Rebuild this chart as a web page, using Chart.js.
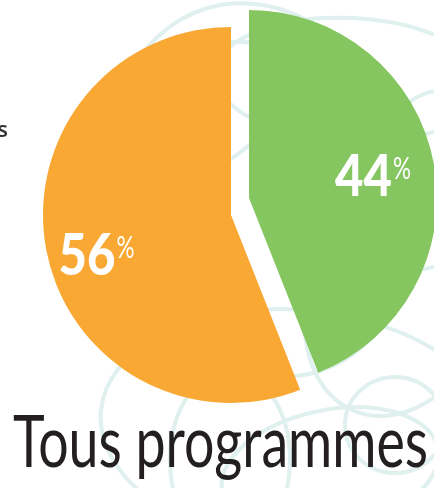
<!DOCTYPE html>
<html>
<head>
<meta charset="utf-8">
<script src="https://cdn.jsdelivr.net/npm/chart.js"></script>
<style>
  html, body { margin: 0; padding: 0; background: #fff; }
  #wrap { width: 434px; height: 488px; position: relative; }
</style>
</head>
<body>
<div id="wrap"><canvas id="pie"></canvas></div>
<script>
// chart data
const categories = ['Groupe A', 'Groupe B'];
const shares = [44, 56];
const valueLabels = ['44', '56'];
const sliceColors = ['#86c661', '#f9a833'];
const chartTitle = 'Tous programmes';

// light scribbles in the background
const scribbles = {
    id: 'scribbles',
    beforeDraw(chart) {
        const ctx = chart.ctx;
        ctx.save();
        ctx.strokeStyle = '#dff0ef';
        ctx.lineWidth = 4;
        const rings = [
            [262, 190, 150, 190, -0.3],
            [350, 80, 135, 62, 0.05],
            [400, 300, 90, 120, 0.4],
            [395, 425, 50, 48, 0],
            [300, 430, 200, 120, 0.1],
            [230, 460, 60, 90, 0],
            [330, 470, 110, 60, -0.2],
            [430, 180, 60, 90, 0.2],
            [180, 120, 120, 60, -0.5]
        ];
        rings.forEach(r => {
            ctx.beginPath();
            ctx.ellipse(r[0], r[1], r[2], r[3], r[4], 0, Math.PI * 2);
            ctx.stroke();
        });
        ctx.restore();
    }
};

// draw slices, pulling the green one out up and to the right
const explode = {
    id: 'explode',
    beforeDatasetDraw(chart, args) {
        const ctx = chart.ctx;
        args.meta.data.forEach((el, i) => {
            ctx.save();
            if (i === 0) ctx.translate(18, -17);
            el.draw(ctx);
            ctx.restore();
        });
        return false;
    }
};

// percentage labels + title text
const labels = {
    id: 'labels',
    afterDatasetsDraw(chart) {
        const ctx = chart.ctx;
        const meta = chart.getDatasetMeta(0);
        const shift = [[18, -17], [0, 0]];
        const dist = [0.62, 0.78];
        const nudge = [0, 13];
        meta.data.forEach((el, i) => {
            const p = el.getProps(['x', 'y', 'startAngle', 'endAngle', 'outerRadius'], true);
            const mid = (p.startAngle + p.endAngle) / 2;
            const cx = p.x + shift[i][0] + Math.cos(mid) * p.outerRadius * dist[i];
            const cy = p.y + shift[i][1] + Math.sin(mid) * p.outerRadius * dist[i] + nudge[i];
            ctx.save();
            ctx.fillStyle = '#ffffff';
            ctx.textBaseline = 'alphabetic';
            ctx.font = '900 57px Lato';
            const sx = 0.86;
            const w = ctx.measureText(valueLabels[i]).width * sx;
            ctx.save();
            ctx.translate(cx - w / 2, cy + 20);
            ctx.scale(sx, 1);
            ctx.fillText(valueLabels[i], 0, 0);
            ctx.restore();
            ctx.font = '30px Lato';
            ctx.save();
            ctx.translate(cx + w / 2 + 1, cy + 3);
            ctx.scale(0.75, 1);
            ctx.fillText('%', 0, 0);
            ctx.restore();
            ctx.restore();
        });

        // title
        ctx.save();
        ctx.fillStyle = '#231f20';
        ctx.font = '72px Lato';
        const tw = ctx.measureText(chartTitle).width;
        ctx.translate(13, 467);
        ctx.scale(415 / tw, 1);
        ctx.fillText(chartTitle, 0, 0);
        ctx.restore();

        // cut-off text at the left edge
        ctx.save();
        ctx.fillStyle = '#333333';
        ctx.font = '600 22px "Open Sans"';
        ctx.textAlign = 'right';
        ctx.fillText('s', 8, 137);
        ctx.restore();
    }
};

new Chart(document.getElementById('pie'), {
    type: 'pie',
    data: {
        labels: categories,
        datasets: [{
            data: shares,
            backgroundColor: sliceColors,
            borderWidth: 0,
            clip: false
        }]
    },
    options: {
        responsive: true,
        maintainAspectRatio: false,
        animation: false,
        layout: {
            padding: { left: 43, right: 15, top: 27, bottom: 85 }
        },
        plugins: {
            legend: { display: false },
            tooltip: { enabled: false },
            title: { display: false }
        }
    },
    plugins: [scribbles, explode, labels]
});
</script>
</body>
</html>
